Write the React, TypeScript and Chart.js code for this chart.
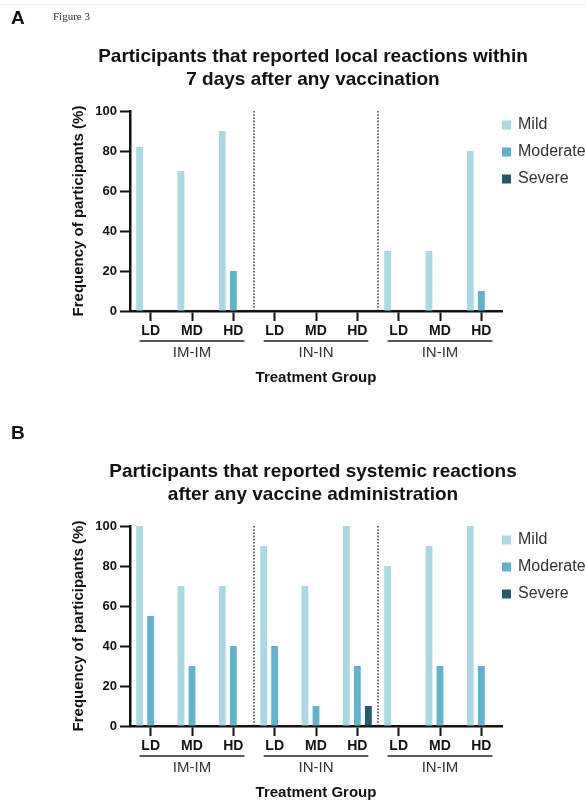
// ============================================
// Figure 3 — local / systemic reactions per treatment group
// Chart.js grouped bars, annotations drawn by a small plugin
// ============================================

import { useEffect, useRef } from 'react';
import { Chart, registerables } from 'chart.js';

Chart.register(...registerables);

const FONT = '"Liberation Sans", Arial, Helvetica, sans-serif';
Chart.defaults.font.family = FONT;

// ---- Data ----
const DOSES = ['LD', 'MD', 'HD'];
const GROUPS = ['IM-IM', 'IN-IN', 'IN-IM'];
const CATEGORIES = GROUPS.flatMap(() => DOSES);
const SEVERITIES = ['Mild', 'Moderate', 'Severe'];
const SEVERITY_COLORS = ['#aad8e3', '#62b2cb', '#235c6c'];
const Y_TICKS = [0, 20, 40, 60, 80, 100];

// A — local reactions within 7 days
const LOCAL_MILD     = [82, 70, 90, 0, 0, 0, 30, 30, 80];
const LOCAL_MODERATE = [0, 0, 20, 0, 0, 0, 0, 0, 10];
const LOCAL_SEVERE   = [0, 0, 0, 0, 0, 0, 0, 0, 0];

// B — systemic reactions
const SYSTEMIC_MILD     = [100, 70, 70, 90, 70, 100, 80, 90, 100];
const SYSTEMIC_MODERATE = [55, 30, 40, 40, 10, 30, 0, 30, 30];
const SYSTEMIC_SEVERE   = [0, 0, 0, 0, 0, 10, 0, 0, 0];

const TITLE_A = ['Participants that reported local reactions within', '7 days after any vaccination'];
const TITLE_B = ['Participants that reported systemic reactions', 'after any vaccine administration'];

// ============================================
// One panel
// ============================================
interface PanelProps {
  letter: string;
  title: string[];
  series: number[][];
  height: number;
  note?: string;
}

const PLOT_TOP = 111;
const PLOT_BOTTOM = 311;

function ReactionPanel({ letter, title, series, height, note }: PanelProps) {
  const canvasRef = useRef<HTMLCanvasElement>(null);

  useEffect(() => {
    if (!canvasRef.current) return;

    const decor = {
      id: 'decor',
      afterDraw(chart: Chart) {
        const { ctx } = chart;
        const { left, right, top, bottom } = chart.chartArea;
        const xs = chart.scales.x;
        ctx.save();

        // header
        if (note) {
          ctx.strokeStyle = '#ededed';
          ctx.lineWidth = 1;
          ctx.beginPath(); ctx.moveTo(0, 4.5); ctx.lineTo(585, 4.5); ctx.stroke();
          ctx.fillStyle = '#333';
          ctx.font = '11px "Liberation Serif", "Times New Roman", serif';
          ctx.textAlign = 'left';
          ctx.textBaseline = 'middle';
          ctx.fillText(note, 53, 17);
        }
        ctx.fillStyle = '#111';
        ctx.font = `bold 19px ${FONT}`;
        ctx.textAlign = 'left';
        ctx.textBaseline = 'middle';
        ctx.fillText(letter, 11, 19);

        ctx.textAlign = 'center';
        title.forEach((line, i) => ctx.fillText(line, 313, 57 + 23 * i));

        // y title
        ctx.save();
        ctx.translate(79, (top + bottom) / 2);
        ctx.rotate(-Math.PI / 2);
        ctx.font = `bold 15px ${FONT}`;
        ctx.fillText('Frequency of participants (%)', 0, 0);
        ctx.restore();

        // dotted separators between groups
        ctx.strokeStyle = '#222';
        ctx.lineWidth = 1.3;
        ctx.setLineDash([1.6, 1.6]);
        for (let g = 1; g < GROUPS.length; g++) {
          const i = g * DOSES.length;
          const x = (xs.getPixelForValue(i - 1) + xs.getPixelForValue(i)) / 2;
          ctx.beginPath(); ctx.moveTo(x, top); ctx.lineTo(x, bottom); ctx.stroke();
        }
        ctx.setLineDash([]);

        // group brackets + names
        GROUPS.forEach((name, g) => {
          const x0 = xs.getPixelForValue(g * DOSES.length) - 11;
          const x1 = xs.getPixelForValue(g * DOSES.length + DOSES.length - 1) + 11;
          ctx.strokeStyle = '#222';
          ctx.lineWidth = 1.5;
          ctx.beginPath(); ctx.moveTo(x0, bottom + 30); ctx.lineTo(x1, bottom + 30); ctx.stroke();
          ctx.fillStyle = '#333';
          ctx.font = `15px ${FONT}`;
          ctx.textAlign = 'center';
          ctx.fillText(name, (x0 + x1) / 2, bottom + 42);
        });

        ctx.fillStyle = '#111';
        ctx.font = `bold 15px ${FONT}`;
        ctx.fillText('Treatment Group', (left + right) / 2, bottom + 67);

        // legend
        chart.data.datasets.forEach((ds, i) => {
          const y = top + 14 + 27 * i;
          ctx.fillStyle = ds.backgroundColor as string;
          ctx.fillRect(502, y - 4.5, 9, 9);
          ctx.fillStyle = '#333';
          ctx.font = `16px ${FONT}`;
          ctx.textAlign = 'left';
          ctx.fillText(ds.label ?? '', 518, y);
        });

        ctx.restore();
      },
    };

    const chart = new Chart(canvasRef.current, {
      type: 'bar',
      data: {
        labels: CATEGORIES,
        datasets: SEVERITIES.map((label, i) => ({
          label,
          data: series[i],
          backgroundColor: SEVERITY_COLORS[i],
          borderWidth: 0,
          categoryPercentage: 0.8,
          barPercentage: 0.62,
        })),
      },
      options: {
        responsive: false,
        animation: false,
        devicePixelRatio: 1,
        layout: { padding: { top: PLOT_TOP, right: 83, left: 0, bottom: 0 } },
        plugins: { legend: { display: false }, tooltip: { enabled: false } },
        scales: {
          x: {
            grid: { drawOnChartArea: false, offset: false, tickLength: 10, tickWidth: 2, tickColor: '#111' },
            border: { color: '#111', width: 2.5 },
            ticks: { color: '#111', font: { size: 14, weight: 'bold' }, padding: 2, maxRotation: 0 },
            afterFit: (s: any) => { s.height = height - PLOT_BOTTOM; },
          },
          y: {
            min: 0,
            max: 100,
            grid: { drawOnChartArea: false, tickLength: 10, tickWidth: 2, tickColor: '#111' },
            border: { color: '#111', width: 2.5 },
            ticks: { color: '#111', font: { size: 13, weight: 'bold' }, padding: 3 },
            afterBuildTicks: (s: any) => { s.ticks = Y_TICKS.map(value => ({ value })); },
            afterFit: (s: any) => { s.width = 130; },
          },
        },
      },
      plugins: [decor],
    });

    return () => { chart.destroy(); };
  }, [letter, title, series, height, note]);

  return (
    <canvas
      ref={canvasRef}
      width={585}
      height={height}
      style={{ display: 'block', width: 585, height }}
    />
  );
}

// ============================================
// Page
// ============================================
export default function App() {
  useEffect(() => { document.body.style.margin = '0'; }, []);

  return (
    <div style={{ width: 585, height: 802, background: '#fff' }}>
      <ReactionPanel
        letter="A"
        note="Figure 3"
        title={TITLE_A}
        series={[LOCAL_MILD, LOCAL_MODERATE, LOCAL_SEVERE]}
        height={415}
      />
      <ReactionPanel
        letter="B"
        title={TITLE_B}
        series={[SYSTEMIC_MILD, SYSTEMIC_MODERATE, SYSTEMIC_SEVERE]}
        height={387}
      />
    </div>
  );
}
